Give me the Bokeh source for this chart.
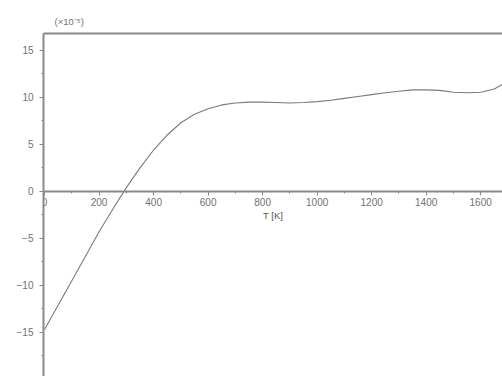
from bokeh.plotting import figure
from bokeh.models import LinearAxis, FixedTicker, Range1d
from bokeh.embed import file_html
from bokeh.resources import INLINE

# Temperature [K]
temps = [0, 50, 100, 150, 200, 250, 300, 350, 400, 450, 500, 550, 600, 650, 700,
         750, 800, 850, 900, 950, 1000, 1050, 1100, 1150, 1200, 1250, 1300, 1350,
         1400, 1450, 1500, 1550, 1600, 1650, 1680]
# value in units of 1e-5
values = [-14.7, -12.1, -9.5, -6.9, -4.3, -1.9, 0.4, 2.5, 4.4, 6.0, 7.3, 8.2, 8.8,
          9.2, 9.4, 9.5, 9.5, 9.45, 9.4, 9.45, 9.55, 9.7, 9.9, 10.1, 10.3, 10.5,
          10.65, 10.8, 10.8, 10.75, 10.55, 10.5, 10.55, 10.9, 11.4]

x_ticks = [0, 200, 400, 600, 800, 1000, 1200, 1400, 1600]
x_minor = [100, 300, 500, 700, 900, 1100, 1300, 1500, 1700]
y_ticks = [-20, -15, -10, -5, 0, 5, 10, 15]
y_minor = [-17.5, -12.5, -7.5, -2.5, 2.5, 7.5, 12.5]
y_labels = {-20: "\u221220", -15: "\u221215", -10: "\u221210", -5: "\u22125",
            0: "0", 5: "5", 10: "10", 15: "15"}

AX = "#8a8a8a"
TXT = "#707070"
FONT = "Liberation Sans"

p = figure(width=502, height=376, output_backend="svg", toolbar_location=None,
           x_range=Range1d(-4, 1680), y_range=Range1d(-19.7, 16.8),
           min_border_left=43, min_border_right=0, min_border_top=33,
           min_border_bottom=0, outline_line_color=None,
           title="(\u00d710\u207b\u2075)")
p.grid.visible = False
p.title.text_font = FONT
p.title.text_font_size = "9.5px"
p.title.text_font_style = "normal"
p.title.text_color = TXT
p.title.offset = 11
p.title.standoff = 14

p.line(temps, values, line_color="#7a7a7a", line_width=1.1)

# x axis at y = 0
xa = p.xaxis[0]
xa.fixed_location = 0
xa.ticker = FixedTicker(ticks=x_ticks, minor_ticks=x_minor)
xa.axis_line_color = AX
xa.axis_line_width = 2
xa.major_tick_line_color = AX
xa.major_tick_in = 0
xa.major_tick_out = 4
xa.minor_tick_line_color = AX
xa.minor_tick_in = 0
xa.minor_tick_out = 2
xa.major_label_text_font = FONT
xa.major_label_text_font_size = "10px"
xa.major_label_text_color = TXT
xa.major_label_standoff = 3
xa.axis_label = "T [K]"
xa.axis_label_text_font = FONT
xa.axis_label_text_font_size = "9.5px"
xa.axis_label_text_font_style = "normal"
xa.axis_label_text_color = "#555555"
xa.axis_label_standoff = 0

ya = p.yaxis[0]
ya.ticker = FixedTicker(ticks=y_ticks, minor_ticks=y_minor)
ya.major_label_overrides = y_labels
ya.axis_line_color = AX
ya.axis_line_width = 2
ya.major_tick_line_color = AX
ya.major_tick_in = 0
ya.major_tick_out = 4
ya.minor_tick_line_color = AX
ya.minor_tick_in = 0
ya.minor_tick_out = 2
ya.major_label_text_font = FONT
ya.major_label_text_font_size = "10px"
ya.major_label_text_color = TXT
ya.major_label_standoff = 6

top = LinearAxis(ticker=FixedTicker(ticks=[]), axis_line_color=AX, axis_line_width=2,
                 major_tick_line_color=None, minor_tick_line_color=None)
p.add_layout(top, "above")

open("out.html", "w").write(file_html(p, INLINE))
